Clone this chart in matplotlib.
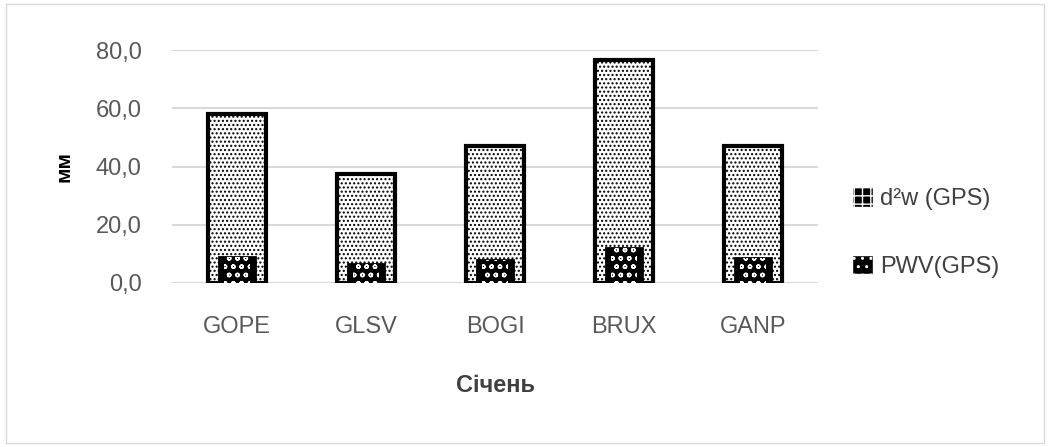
import numpy as np
import matplotlib.pyplot as plt
from matplotlib.patches import Patch, Rectangle
from matplotlib.ticker import FuncFormatter

stations = ['GOPE', 'GLSV', 'BOGI', 'BRUX', 'GANP']
d2w = [58.0, 37.5, 47.0, 76.5, 47.0]
pwv = [9.0, 6.5, 8.0, 12.0, 8.5]

plt.rcParams['font.family'] = ['Liberation Sans', 'DejaVu Sans']
plt.rcParams['hatch.linewidth'] = 1.0

fig = plt.figure(figsize=(10.51, 4.47), dpi=100)
ax = fig.add_axes([0.164, 0.367, 0.614, 0.521])
fig.patches.append(Rectangle((0.006, 0.01), 0.987, 0.98, transform=fig.transFigure,
                             fill=False, edgecolor='#d9d9d9', linewidth=1))

x = np.arange(len(stations))
ax.bar(x, d2w, width=0.45, facecolor='white', edgecolor='black', hatch='....',
       linewidth=0, zorder=2)
ax.bar(x, d2w, width=0.45, fill=False, edgecolor='black', linewidth=3, zorder=4)
ax.bar(x, pwv, width=0.28, facecolor='black', edgecolor='black', linewidth=2, zorder=5)
ax.bar(x, pwv, width=0.2, fill=False, edgecolor='white', hatch='oo', linewidth=0, zorder=6)

ax.set_ylim(0, 80)
ax.set_xlim(-0.5, len(stations) - 0.5)
ax.set_yticks(np.arange(0, 81, 20))
ax.yaxis.set_major_formatter(FuncFormatter(lambda v, p: f'{v:.1f}'.replace('.', ',')))
ax.set_xticks(x)
ax.set_xticklabels(stations)
ax.grid(axis='y', color='#d9d9d9', linewidth=1.5, zorder=0)
ax.set_axisbelow(True)
for s in ax.spines.values():
    s.set_visible(False)
ax.tick_params(length=0, labelsize=17, colors='#595959')
ax.tick_params(axis='x', pad=24)
ax.tick_params(axis='y', pad=22)

ax.set_ylabel('мм', fontsize=15, fontweight='bold', labelpad=16)
ax.set_xlabel('Січень', fontsize=17, fontweight='bold', color='#404040', labelpad=26)

h1 = Patch(facecolor='black', edgecolor='white', hatch='++')
h2 = Patch(facecolor='black', edgecolor='white', hatch='..')
fig.legend([h1, h2], ['d²w (GPS)', 'PWV(GPS)'], loc='center left',
           bbox_to_anchor=(0.79, 0.48), frameon=False, fontsize=17,
           labelspacing=1.9, handlelength=0.9, handleheight=0.9, handletextpad=0.3,
           labelcolor='#404040')

fig.savefig('out.png', dpi=100)
